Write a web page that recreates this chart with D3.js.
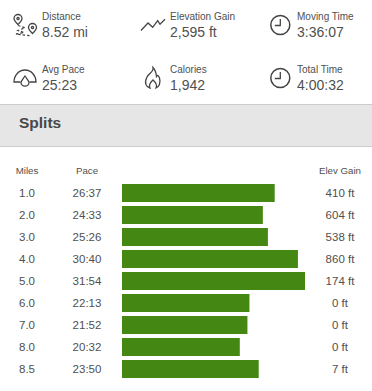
<!DOCTYPE html>
<html lang="en">
<head>
<meta charset="UTF-8">
<title>Splits</title>
<style>
  html, body { margin: 0; padding: 0; background: #fff; }
  svg { display: block; }
  text { font-family: "Liberation Sans", Arial, sans-serif; fill: #505050; }
  .icon { fill: none; stroke: #444; stroke-width: 1.3px; }
</style>
</head>
<body>
<div id="chart"></div>
<script src="https://d3js.org/d3.v7.min.js"></script>
<script>
var miles = ["1.0", "2.0", "3.0", "4.0", "5.0", "6.0", "7.0", "8.0", "8.5"];
var paces = ["26:37", "24:33", "25:26", "30:40", "31:54", "22:13", "21:52", "20:32", "23:50"];
var elevGain = ["410 ft", "604 ft", "538 ft", "860 ft", "174 ft", "0 ft", "0 ft", "0 ft", "7 ft"];
var statLabels = ["Distance", "Elevation Gain", "Moving Time", "Avg Pace", "Calories", "Total Time"];
var statValues = ["8.52 mi", "2,595 ft", "3:36:07", "25:23", "1,942", "4:00:32"];

function seconds(p) {
  var parts = p.split(":");
  return +parts[0] * 60 + +parts[1];
}

var svg = d3.select("#chart").append("svg").attr("width", 372).attr("height", 391);

// stat blocks, 3 columns 2 rows
var statX = d3.scaleOrdinal().domain([0, 1, 2]).range([42, 170, 297]);
var statY = d3.scaleOrdinal().domain([0, 1]).range([0, 53]);

statLabels.forEach(function(label, i) {
  var col = i % 3, row = Math.floor(i / 3);
  var g = svg.append("g").attr("transform", "translate(" + statX(col) + "," + statY(row) + ")");
  g.append("text").attr("y", 19.5).style("font-size", "10px").text(label);
  g.append("text").attr("y", 37).style("font-size", "14px").text(statValues[i]);
});

// icons
var icons = svg.append("g").attr("class", "icon");
function pin(x, y) {
  var p = icons.append("g").attr("transform", "translate(" + x + "," + y + ")");
  p.append("path").attr("d", "M0,4.5 C-2.5,2 -4,0.5 -4,-1.5 A4,4 0 1 1 4,-1.5 C4,0.5 2.5,2 0,4.5Z");
  p.append("circle").attr("cy", -1.5).attr("r", 1.1);
}
pin(18, 20);
pin(32.5, 29);
icons.append("path").attr("stroke-dasharray", "2.5 2")
  .attr("d", "M18,25.5 L25,27.7 L18,30.5 L24,32.5 L16,34 L30,35.7");
icons.append("path").attr("d", "M141,30.5 L148,23 L152.7,27.3 L157.7,20.7 L160,24.3 L165,19.3");
[[280.3, 25], [280.3, 78]].forEach(function(c) {
  icons.append("circle").attr("cx", c[0]).attr("cy", c[1]).attr("r", 9.5).style("stroke-width", "1.5px");
  icons.append("path").attr("d", "M" + c[0] + "," + (c[1] - 6) + " V" + (c[1] + 0.5) + " H" + (c[0] - 5.5));
});
icons.append("path").attr("d", "M20.5,82 H14 A11,12 0 0 1 36,82 H29.5");
icons.append("path").attr("d", "M25,76 C23,79 21,81 21,82.5 A4,3.7 0 0 0 29,82.5 C29,81 27,79 25,76Z");
icons.append("path").attr("d", "M153,67.5 C154,72 149,73 147,77 C144,83 146,87 150,88 C148,84 151,82 153,80 C155,82 158,84 156,88 C159,87 161,83 159.5,78 C158.5,75 157.5,75 156.5,76.5 C156,72 155,69.5 153,67.5Z");

// splits header band
svg.append("rect").attr("x", 0).attr("y", 104).attr("width", 372).attr("height", 42)
  .attr("fill", "#e6e6e6");
svg.append("rect").attr("x", 0).attr("y", 104).attr("width", 372).attr("height", 1).attr("fill", "#cccccc");
svg.append("rect").attr("x", 0).attr("y", 146).attr("width", 372).attr("height", 1).attr("fill", "#cccccc");
svg.append("text").attr("x", 19).attr("y", 128)
  .style("font-size", "15.5px").style("font-weight", "bold").style("fill", "#484848").text("Splits");

// column headers
var headers = [["Miles", 27], ["Pace", 87], ["Elev Gain", 340]];
headers.forEach(function(h) {
  svg.append("text").attr("x", h[1]).attr("y", 174).attr("text-anchor", "middle")
    .style("font-size", "9.7px").text(h[0]);
});

// rows
var y = d3.scaleBand().domain(miles).range([184, 378]).paddingInner(4 / 22);
var x = d3.scaleLinear().domain([0, seconds("31:54")]).range([122, 305]);

var rows = svg.selectAll(".row").data(miles).enter().append("g").attr("class", "row");

rows.append("rect")
  .attr("x", x(0))
  .attr("y", function(d) { return y(d); })
  .attr("height", y.bandwidth())
  .attr("width", function(d, i) { return x(seconds(paces[i])) - x(0); })
  .attr("fill", "#448712");

function cell(cx, fn) {
  rows.append("text")
    .attr("x", cx)
    .attr("y", function(d) { return y(d) + y.bandwidth() / 2 + 4; })
    .attr("text-anchor", "middle")
    .style("font-size", "11.5px")
    .text(fn);
}
cell(27, function(d) { return d; });
cell(87, function(d, i) { return paces[i]; });
cell(340, function(d, i) { return elevGain[i]; });
</script>
</body>
</html>
